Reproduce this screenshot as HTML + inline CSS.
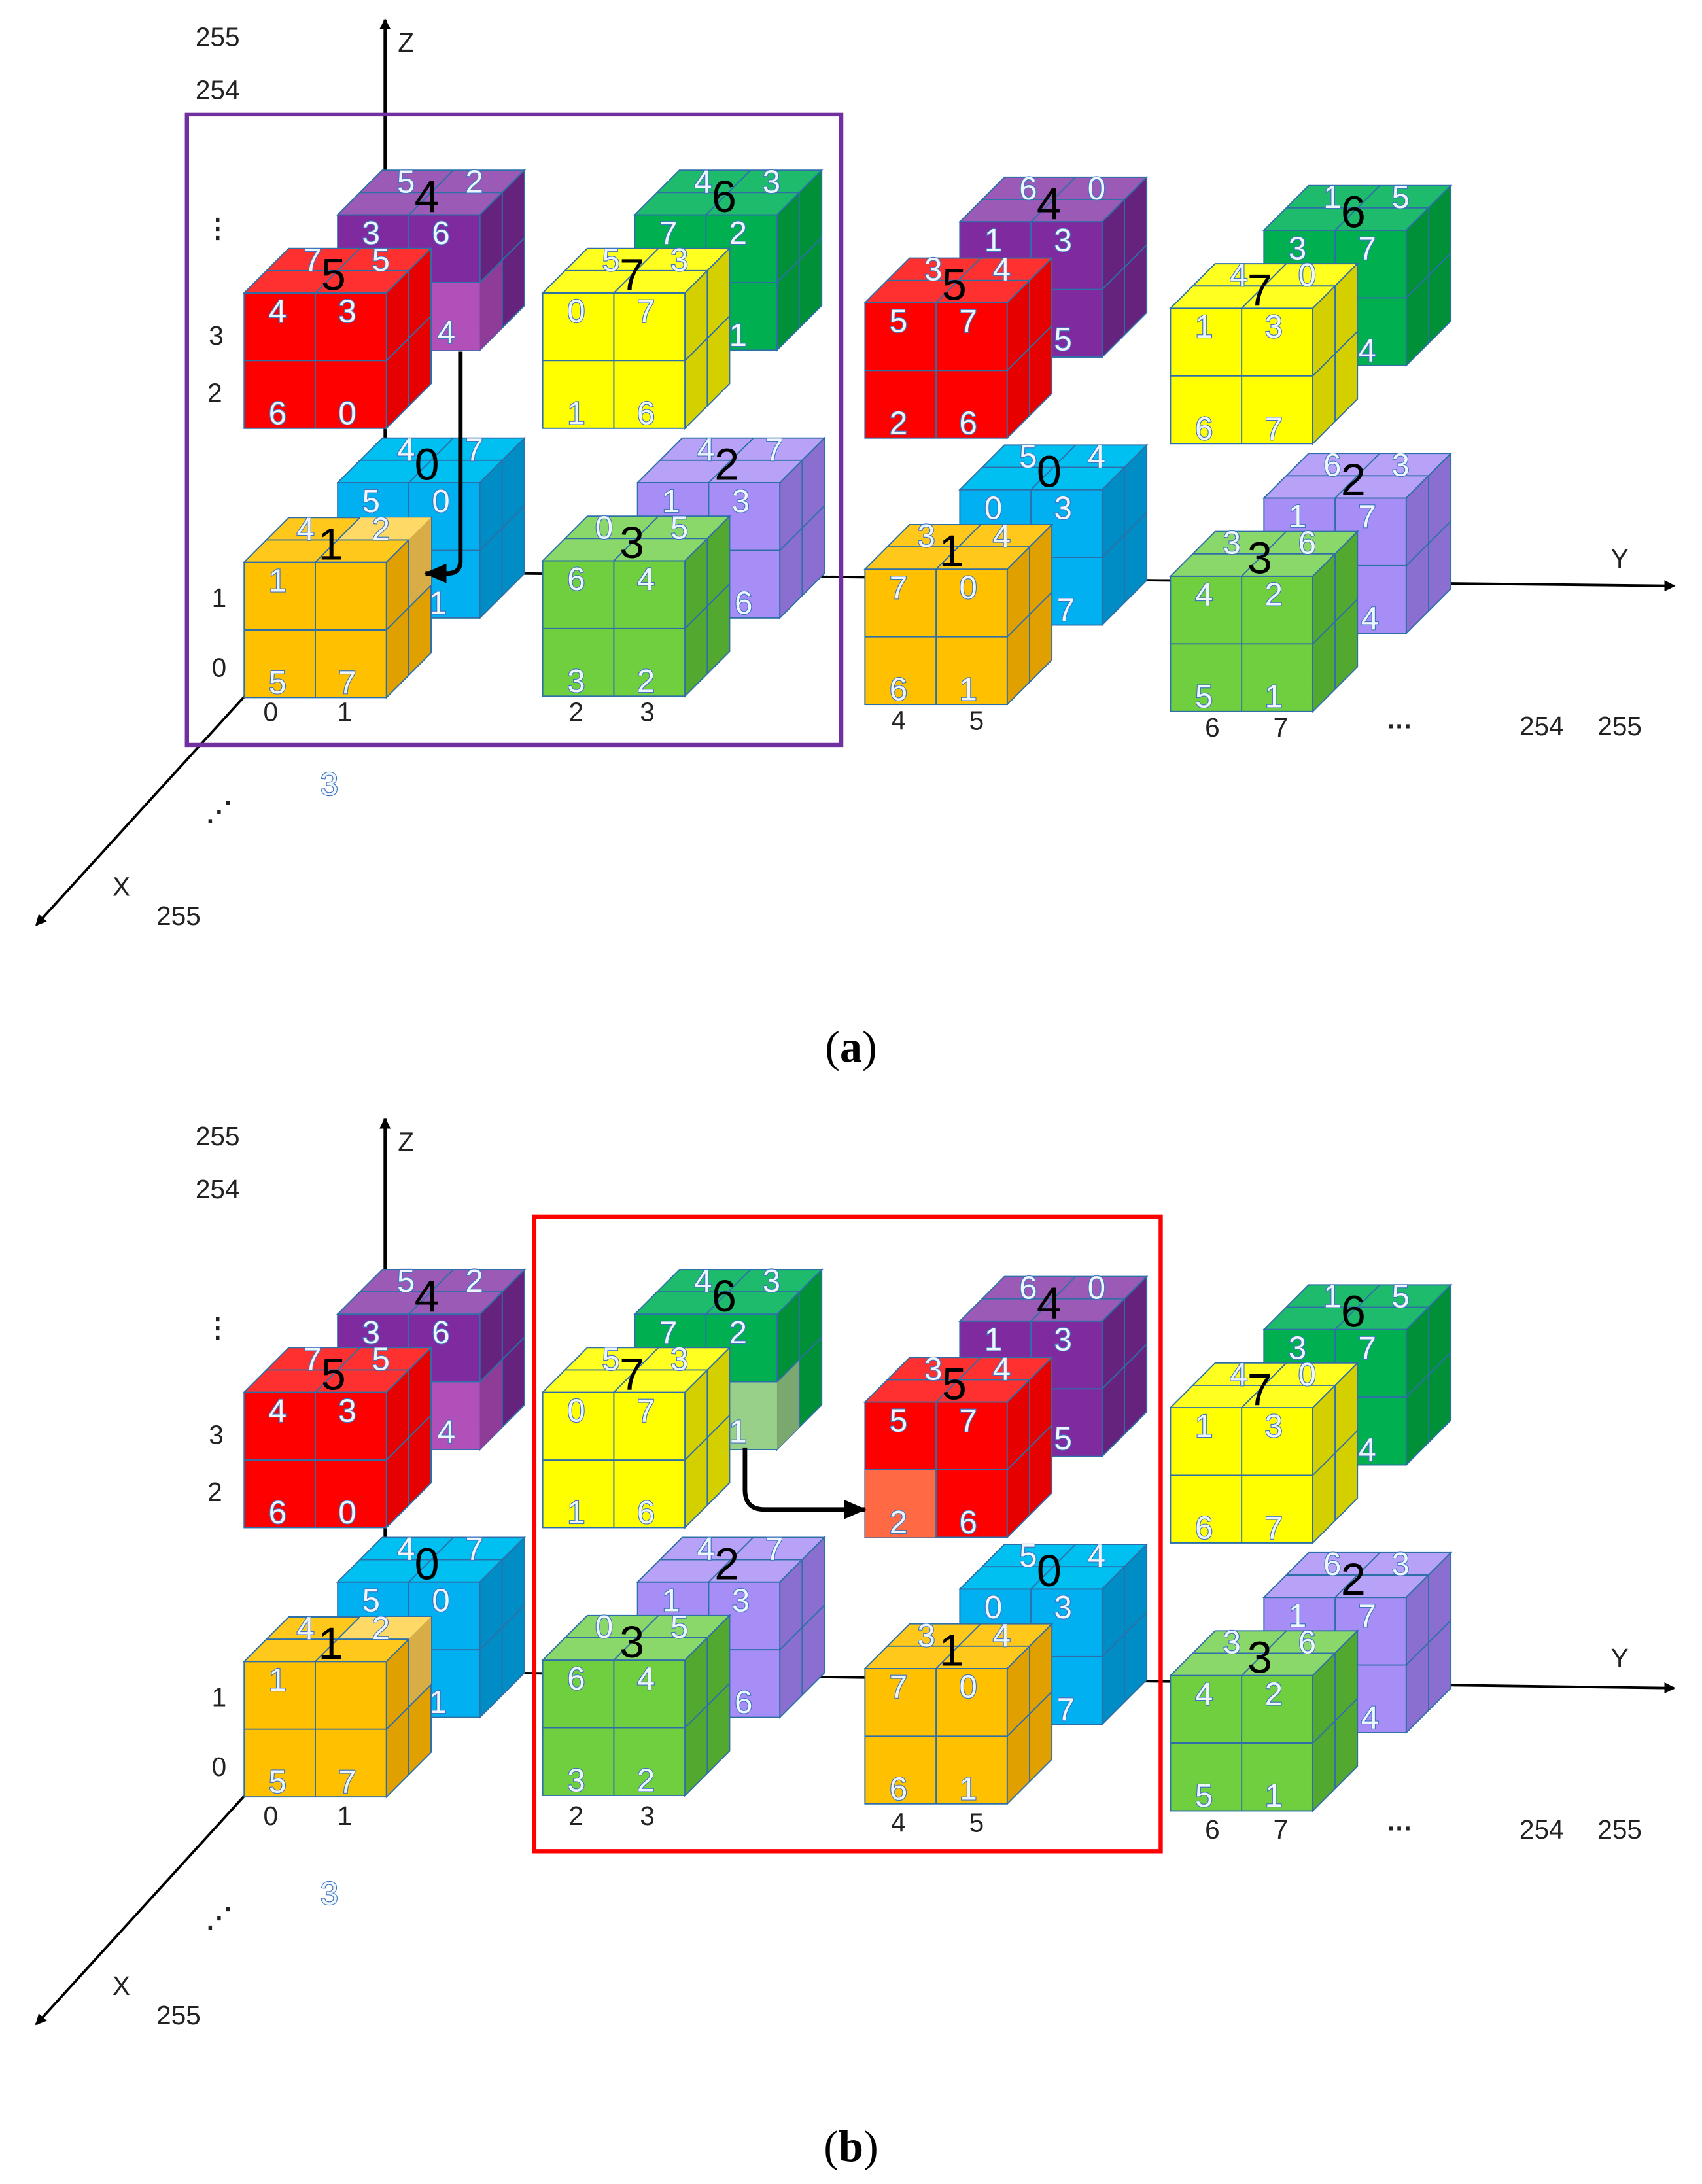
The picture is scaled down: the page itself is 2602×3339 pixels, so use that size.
<!DOCTYPE html>
<html><head><meta charset="utf-8">
<style>
html,body{margin:0;padding:0;background:#fff;}
svg{display:block;}
.s{font-family:"Liberation Sans",sans-serif;font-size:23px;fill:#eef5fd;stroke:#3f75c0;stroke-width:1.1px;paint-order:stroke;text-anchor:middle;}
.b{font-family:"Liberation Sans",sans-serif;font-size:32px;fill:#000;text-anchor:middle;}
.ax{font-family:"Liberation Sans",sans-serif;font-size:19px;fill:#222;text-anchor:middle;}
.cap{font-family:"Liberation Serif",serif;font-size:32px;fill:#000;text-anchor:middle;}
.f{fill:var(--f);} .t{fill:var(--t);} .d{fill:var(--s);}
.pu{--f:#7f2a9e;--t:#9a5ab5;--s:#65237e;}
.re{--f:#ff0000;--t:#ff3030;--s:#e60000;}
.g6{--f:#00b050;--t:#1ebb6c;--s:#009038;}
.ye{--f:#ffff00;--t:#ffff20;--s:#d4d000;}
.bl{--f:#00b0f0;--t:#00c0f2;--s:#008cc4;}
.la{--f:#a78df6;--t:#b8a2f8;--s:#8a6fd0;}
.or{--f:#ffc000;--t:#ffc81a;--s:#e0a000;}
.g3{--f:#6fcf3f;--t:#8ad86a;--s:#53a830;}
</style></head><body>
<svg width="2602" height="3339" viewBox="0 0 1220 1565.5" preserveAspectRatio="none" xmlns="http://www.w3.org/2000/svg">
<defs>
<marker id="ah" markerWidth="8" markerHeight="8" refX="7" refY="4" orient="auto" markerUnits="userSpaceOnUse"><path d="M0,0 L8,4 L0,8 z" fill="#000"/></marker>
<marker id="ah2" markerWidth="16" markerHeight="14" refX="15" refY="7" orient="auto" markerUnits="userSpaceOnUse"><path d="M0,0 L16,7 L0,14 z" fill="#000"/></marker>
<symbol id="c" overflow="visible">
<g stroke="#2e6fa8" stroke-width="0.9">
<rect class="f" x="0" y="0" width="102" height="97"/>
<polygon class="t" points="0,0 32,-32 134,-32 102,0"/>
<polygon class="d" points="102,0 134,-32 134,65 102,97"/>
</g>
</symbol>
<symbol id="gl" overflow="visible">
<g stroke="#2e6fa8" stroke-width="0.9" fill="none">
<path d="M51,0V97 M0,48.5H102 M16,-16H118 M51,0L83,-32 M118,-16V81 M102,48.5L134,16.5"/>
</g>
</symbol>
</defs>
<rect width="1220" height="1566" fill="#fff"/>

<!-- ================= (a) ================= -->
<g id="A">
<line x1="276" y1="410" x2="276" y2="14" stroke="#000" stroke-width="2.2" marker-end="url(#ah)"/>
<line x1="276" y1="410" x2="1200" y2="420" stroke="#000" stroke-width="1.8" marker-end="url(#ah)"/>
<line x1="190" y1="483" x2="26" y2="663" stroke="#000" stroke-width="1.8" marker-end="url(#ah)"/>
<text class="ax" x="291" y="37">Z</text>
<text class="ax" x="1161" y="407">Y</text>
<text class="ax" x="87" y="642">X</text>
<text class="ax" x="156" y="33">255</text>
<text class="ax" x="156" y="71">254</text>
<text class="ax" x="156" y="170" style="font-weight:bold">⋮</text>
<text class="ax" x="155" y="247">3</text>
<text class="ax" x="154" y="288">2</text>
<text class="ax" x="157" y="435">1</text>
<text class="ax" x="157" y="485">0</text>
<text class="ax" x="194" y="517">0</text>
<text class="ax" x="247" y="517">1</text>
<text class="ax" x="413" y="517">2</text>
<text class="ax" x="464" y="517">3</text>
<text class="ax" x="644" y="523">4</text>
<text class="ax" x="700" y="523">5</text>
<text class="ax" x="869" y="528">6</text>
<text class="ax" x="918" y="528">7</text>
<text class="ax" x="1003" y="522" style="font-weight:bold">…</text>
<text class="ax" x="1105" y="527">254</text>
<text class="ax" x="1161" y="527">255</text>
<text class="s" x="236" y="570">3</text>
<text class="ax" x="157" y="588" style="font-weight:bold">⋰</text>
<text class="ax" x="128" y="663">255</text>

<g class="pu" transform="translate(242,154)"><use href="#c"/><rect x="51" y="48.5" width="51" height="48.5" fill="#b150b8"/><polygon points="102,48.5 118,32.5 118,81 102,97" fill="#8e3c98"/><use href="#gl"/>
<text class="s" x="49" y="-16">5</text><text class="s" x="98" y="-16">2</text><text class="b" x="64" y="-2">4</text>
<text class="s" x="24" y="21">3</text><text class="s" x="74" y="21">6</text><text class="s" x="78" y="92">4</text></g>
<g class="g6" transform="translate(455,154)"><use href="#c"/><use href="#gl"/>
<text class="s" x="49" y="-16">4</text><text class="s" x="98" y="-16">3</text><text class="b" x="64" y="-2">6</text>
<text class="s" x="24" y="21">7</text><text class="s" x="74" y="21">2</text><text class="s" x="74" y="94">1</text></g>
<g class="pu" transform="translate(688,159)"><use href="#c"/><use href="#gl"/>
<text class="s" x="49" y="-16">6</text><text class="s" x="98" y="-16">0</text><text class="b" x="64" y="-2">4</text>
<text class="s" x="24" y="21">1</text><text class="s" x="74" y="21">3</text><text class="s" x="74" y="92">5</text></g>
<g class="g6" transform="translate(906,165)"><use href="#c"/><use href="#gl"/>
<text class="s" x="49" y="-16">1</text><text class="s" x="98" y="-16">5</text><text class="b" x="64" y="-2">6</text>
<text class="s" x="24" y="21">3</text><text class="s" x="74" y="21">7</text><text class="s" x="74" y="94">4</text></g>
<g class="re" transform="translate(175,210)"><use href="#c"/><use href="#gl"/>
<text class="s" x="49" y="-16">7</text><text class="s" x="98" y="-16">5</text><text class="b" x="64" y="-2">5</text>
<text class="s" x="24" y="21">4</text><text class="s" x="74" y="21">3</text><text class="s" x="24" y="94">6</text><text class="s" x="74" y="94">0</text></g>
<g class="ye" transform="translate(389,210)"><use href="#c"/><use href="#gl"/>
<text class="s" x="49" y="-16">5</text><text class="s" x="98" y="-16">3</text><text class="b" x="64" y="-2">7</text>
<text class="s" x="24" y="21">0</text><text class="s" x="74" y="21">7</text><text class="s" x="24" y="94">1</text><text class="s" x="74" y="94">6</text></g>
<g class="re" transform="translate(620,217)"><use href="#c"/><use href="#gl"/>
<text class="s" x="49" y="-16">3</text><text class="s" x="98" y="-16">4</text><text class="b" x="64" y="-2">5</text>
<text class="s" x="24" y="21">5</text><text class="s" x="74" y="21">7</text><text class="s" x="24" y="94">2</text><text class="s" x="74" y="94">6</text></g>
<g class="ye" transform="translate(839,221)"><use href="#c"/><use href="#gl"/>
<text class="s" x="49" y="-16">4</text><text class="s" x="98" y="-16">0</text><text class="b" x="64" y="-2">7</text>
<text class="s" x="24" y="21">1</text><text class="s" x="74" y="21">3</text><text class="s" x="24" y="94">6</text><text class="s" x="74" y="94">7</text></g>
<g class="bl" transform="translate(242,346)"><use href="#c"/><use href="#gl"/>
<text class="s" x="49" y="-16">4</text><text class="s" x="98" y="-16">7</text><text class="b" x="64" y="-2">0</text>
<text class="s" x="24" y="21">5</text><text class="s" x="74" y="21">0</text><text class="s" x="72" y="94">1</text></g>
<g class="la" transform="translate(457,346)"><use href="#c"/><use href="#gl"/>
<text class="s" x="49" y="-16">4</text><text class="s" x="98" y="-16">7</text><text class="b" x="64" y="-2">2</text>
<text class="s" x="24" y="21">1</text><text class="s" x="74" y="21">3</text><text class="s" x="76" y="94">6</text></g>
<g class="bl" transform="translate(688,351)"><use href="#c"/><use href="#gl"/>
<text class="s" x="49" y="-16">5</text><text class="s" x="98" y="-16">4</text><text class="b" x="64" y="-2">0</text>
<text class="s" x="24" y="21">0</text><text class="s" x="74" y="21">3</text><text class="s" x="76" y="94">7</text></g>
<g class="la" transform="translate(906,357)"><use href="#c"/><use href="#gl"/>
<text class="s" x="49" y="-16">6</text><text class="s" x="98" y="-16">3</text><text class="b" x="64" y="-2">2</text>
<text class="s" x="24" y="21">1</text><text class="s" x="74" y="21">7</text><text class="s" x="76" y="94">4</text></g>
<g class="or" transform="translate(175,403)"><use href="#c"/><polygon points="67,-16 83,-32 134,-32 118,-16" fill="#ffd966"/><polygon points="118,-16 134,-32 134,16.5 118,32.5" fill="#d9ad46"/><use href="#gl"/>
<text class="s" x="44" y="-16">4</text><text class="s" x="98" y="-16">2</text><text class="b" x="62" y="-2">1</text>
<text class="s" x="24" y="21">1</text><text class="s" x="24" y="94">5</text><text class="s" x="74" y="94">7</text></g>
<g class="g3" transform="translate(389,402)"><use href="#c"/><use href="#gl"/>
<text class="s" x="44" y="-16">0</text><text class="s" x="98" y="-16">5</text><text class="b" x="64" y="-2">3</text>
<text class="s" x="24" y="21">6</text><text class="s" x="74" y="21">4</text><text class="s" x="24" y="94">3</text><text class="s" x="74" y="94">2</text></g>
<g class="or" transform="translate(620,408)"><use href="#c"/><use href="#gl"/>
<text class="s" x="44" y="-16">3</text><text class="s" x="98" y="-16">4</text><text class="b" x="62" y="-2">1</text>
<text class="s" x="24" y="21">7</text><text class="s" x="74" y="21">0</text><text class="s" x="24" y="94">6</text><text class="s" x="74" y="94">1</text></g>
<g class="g3" transform="translate(839,413)"><use href="#c"/><use href="#gl"/>
<text class="s" x="44" y="-16">3</text><text class="s" x="98" y="-16">6</text><text class="b" x="64" y="-2">3</text>
<text class="s" x="24" y="21">4</text><text class="s" x="74" y="21">2</text><text class="s" x="24" y="94">5</text><text class="s" x="74" y="94">1</text></g>

<rect x="134" y="82" width="469" height="452" fill="none" stroke="#7030a0" stroke-width="3"/>
<path d="M330,252 V402 Q330,411 321,411 H305" fill="none" stroke="#000" stroke-width="3.2" marker-end="url(#ah2)"/>
<text class="cap" x="610" y="761">(<tspan font-weight="bold">a</tspan>)</text>
</g>

<!-- ================= (b) ================= -->
<g transform="translate(0,788)">
<line x1="276" y1="410" x2="276" y2="14" stroke="#000" stroke-width="2.2" marker-end="url(#ah)"/>
<line x1="276" y1="410" x2="1200" y2="422" stroke="#000" stroke-width="1.8" marker-end="url(#ah)"/>
<line x1="190" y1="483" x2="26" y2="663" stroke="#000" stroke-width="1.8" marker-end="url(#ah)"/>
<text class="ax" x="291" y="37">Z</text>
<text class="ax" x="1161" y="407">Y</text>
<text class="ax" x="87" y="642">X</text>
<text class="ax" x="156" y="33">255</text>
<text class="ax" x="156" y="71">254</text>
<text class="ax" x="156" y="170" style="font-weight:bold">⋮</text>
<text class="ax" x="155" y="247">3</text>
<text class="ax" x="154" y="288">2</text>
<text class="ax" x="157" y="435">1</text>
<text class="ax" x="157" y="485">0</text>
<text class="ax" x="194" y="520">0</text>
<text class="ax" x="247" y="520">1</text>
<text class="ax" x="413" y="520">2</text>
<text class="ax" x="464" y="520">3</text>
<text class="ax" x="644" y="525">4</text>
<text class="ax" x="700" y="525">5</text>
<text class="ax" x="869" y="530">6</text>
<text class="ax" x="918" y="530">7</text>
<text class="ax" x="1003" y="524" style="font-weight:bold">…</text>
<text class="ax" x="1105" y="530">254</text>
<text class="ax" x="1161" y="530">255</text>
<text class="s" x="236" y="577">3</text>
<text class="ax" x="157" y="593" style="font-weight:bold">⋰</text>
<text class="ax" x="128" y="663">255</text>

<g class="pu" transform="translate(242,154)"><use href="#c"/><rect x="51" y="48.5" width="51" height="48.5" fill="#b150b8"/><polygon points="102,48.5 118,32.5 118,81 102,97" fill="#8e3c98"/><use href="#gl"/>
<text class="s" x="49" y="-16">5</text><text class="s" x="98" y="-16">2</text><text class="b" x="64" y="-2">4</text>
<text class="s" x="24" y="21">3</text><text class="s" x="74" y="21">6</text><text class="s" x="78" y="92">4</text></g>
<g class="g6" transform="translate(455,154)"><use href="#c"/><rect x="51" y="48.5" width="51" height="48.5" fill="#98d08a"/><polygon points="102,48.5 118,32.5 118,81 102,97" fill="#7aa86e"/><use href="#gl"/>
<text class="s" x="49" y="-16">4</text><text class="s" x="98" y="-16">3</text><text class="b" x="64" y="-2">6</text>
<text class="s" x="24" y="21">7</text><text class="s" x="74" y="21">2</text><text class="s" x="74" y="92">1</text></g>
<g class="pu" transform="translate(688,159)"><use href="#c"/><use href="#gl"/>
<text class="s" x="49" y="-16">6</text><text class="s" x="98" y="-16">0</text><text class="b" x="64" y="-2">4</text>
<text class="s" x="24" y="21">1</text><text class="s" x="74" y="21">3</text><text class="s" x="74" y="92">5</text></g>
<g class="g6" transform="translate(906,165)"><use href="#c"/><use href="#gl"/>
<text class="s" x="49" y="-16">1</text><text class="s" x="98" y="-16">5</text><text class="b" x="64" y="-2">6</text>
<text class="s" x="24" y="21">3</text><text class="s" x="74" y="21">7</text><text class="s" x="74" y="94">4</text></g>
<g class="re" transform="translate(175,210)"><use href="#c"/><use href="#gl"/>
<text class="s" x="49" y="-16">7</text><text class="s" x="98" y="-16">5</text><text class="b" x="64" y="-2">5</text>
<text class="s" x="24" y="21">4</text><text class="s" x="74" y="21">3</text><text class="s" x="24" y="94">6</text><text class="s" x="74" y="94">0</text></g>
<g class="ye" transform="translate(389,210)"><use href="#c"/><use href="#gl"/>
<text class="s" x="49" y="-16">5</text><text class="s" x="98" y="-16">3</text><text class="b" x="64" y="-2">7</text>
<text class="s" x="24" y="21">0</text><text class="s" x="74" y="21">7</text><text class="s" x="24" y="94">1</text><text class="s" x="74" y="94">6</text></g>
<g class="re" transform="translate(620,217)"><use href="#c"/><rect x="0" y="48.5" width="51" height="48.5" fill="#ff6a45"/><use href="#gl"/>
<text class="s" x="49" y="-16">3</text><text class="s" x="98" y="-16">4</text><text class="b" x="64" y="-2">5</text>
<text class="s" x="24" y="21">5</text><text class="s" x="74" y="21">7</text><text class="s" x="24" y="94">2</text><text class="s" x="74" y="94">6</text></g>
<g class="ye" transform="translate(839,221)"><use href="#c"/><use href="#gl"/>
<text class="s" x="49" y="-16">4</text><text class="s" x="98" y="-16">0</text><text class="b" x="64" y="-2">7</text>
<text class="s" x="24" y="21">1</text><text class="s" x="74" y="21">3</text><text class="s" x="24" y="94">6</text><text class="s" x="74" y="94">7</text></g>
<g class="bl" transform="translate(242,346)"><use href="#c"/><use href="#gl"/>
<text class="s" x="49" y="-16">4</text><text class="s" x="98" y="-16">7</text><text class="b" x="64" y="-2">0</text>
<text class="s" x="24" y="21">5</text><text class="s" x="74" y="21">0</text><text class="s" x="72" y="94">1</text></g>
<g class="la" transform="translate(457,346)"><use href="#c"/><use href="#gl"/>
<text class="s" x="49" y="-16">4</text><text class="s" x="98" y="-16">7</text><text class="b" x="64" y="-2">2</text>
<text class="s" x="24" y="21">1</text><text class="s" x="74" y="21">3</text><text class="s" x="76" y="94">6</text></g>
<g class="bl" transform="translate(688,351)"><use href="#c"/><use href="#gl"/>
<text class="s" x="49" y="-16">5</text><text class="s" x="98" y="-16">4</text><text class="b" x="64" y="-2">0</text>
<text class="s" x="24" y="21">0</text><text class="s" x="74" y="21">3</text><text class="s" x="76" y="94">7</text></g>
<g class="la" transform="translate(906,357)"><use href="#c"/><use href="#gl"/>
<text class="s" x="49" y="-16">6</text><text class="s" x="98" y="-16">3</text><text class="b" x="64" y="-2">2</text>
<text class="s" x="24" y="21">1</text><text class="s" x="74" y="21">7</text><text class="s" x="76" y="94">4</text></g>
<g class="or" transform="translate(175,403)"><use href="#c"/><polygon points="67,-16 83,-32 134,-32 118,-16" fill="#ffd966"/><polygon points="118,-16 134,-32 134,16.5 118,32.5" fill="#d9ad46"/><use href="#gl"/>
<text class="s" x="44" y="-16">4</text><text class="s" x="98" y="-16">2</text><text class="b" x="62" y="-2">1</text>
<text class="s" x="24" y="21">1</text><text class="s" x="24" y="94">5</text><text class="s" x="74" y="94">7</text></g>
<g class="g3" transform="translate(389,402)"><use href="#c"/><use href="#gl"/>
<text class="s" x="44" y="-16">0</text><text class="s" x="98" y="-16">5</text><text class="b" x="64" y="-2">3</text>
<text class="s" x="24" y="21">6</text><text class="s" x="74" y="21">4</text><text class="s" x="24" y="94">3</text><text class="s" x="74" y="94">2</text></g>
<g class="or" transform="translate(620,408)"><use href="#c"/><use href="#gl"/>
<text class="s" x="44" y="-16">3</text><text class="s" x="98" y="-16">4</text><text class="b" x="62" y="-2">1</text>
<text class="s" x="24" y="21">7</text><text class="s" x="74" y="21">0</text><text class="s" x="24" y="94">6</text><text class="s" x="74" y="94">1</text></g>
<g class="g3" transform="translate(839,413)"><use href="#c"/><use href="#gl"/>
<text class="s" x="44" y="-16">3</text><text class="s" x="98" y="-16">6</text><text class="b" x="64" y="-2">3</text>
<text class="s" x="24" y="21">4</text><text class="s" x="74" y="21">2</text><text class="s" x="24" y="94">5</text><text class="s" x="74" y="94">1</text></g>

<rect x="383" y="84" width="449" height="455" fill="none" stroke="#ff0000" stroke-width="3"/>
<path d="M534,250 V280 Q534,294 548,294 H620" fill="none" stroke="#000" stroke-width="3.2" marker-end="url(#ah2)"/>
<text class="cap" x="610" y="761">(<tspan font-weight="bold">b</tspan>)</text>
</g>
</svg>
</body></html>
